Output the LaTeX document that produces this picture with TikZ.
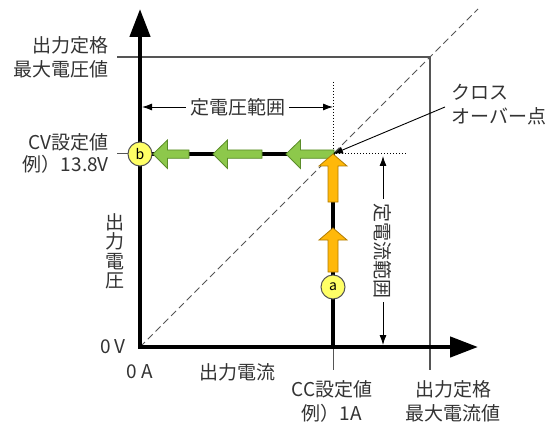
\documentclass[tikz,border=0pt]{standalone}
\usepackage{fontspec}
\setmainfont{Noto Sans CJK JP}
\usetikzlibrary{arrows.meta}

\definecolor{txtgray}{HTML}{333333}
\definecolor{linegray}{HTML}{555555}
\definecolor{cvgreen}{HTML}{8DC84B}
\definecolor{cvgreenline}{HTML}{5B8C2A}
\definecolor{ccorange}{HTML}{FFB80A}
\definecolor{ccorangeline}{HTML}{B07A00}
\definecolor{badgeyellow}{HTML}{FFFF66}

\tikzset{
  lbl/.style={text=txtgray,font=\fontsize{19pt}{24pt}\selectfont,inner sep=0pt},
  axis/.style={line width=4.5pt,line join=miter,
    {Triangle[length=28pt,width=20pt]}-{Triangle[length=28pt,width=20pt]}},
  setline/.style={line width=3.5pt},
  thinline/.style={linegray,line width=1.2pt},
  rangearrow/.style={black,line width=0.9pt,
    {Latex[length=10pt,width=7pt]}-{Latex[length=10pt,width=7pt]}},
  badge/.style={circle,draw=linegray,line width=1pt,fill=badgeyellow,
    minimum size=24pt,inner sep=0pt,font=\fontsize{14pt}{14pt}\selectfont},
  cvarrow/.style={fill=cvgreen,draw=cvgreenline,line width=0.8pt,line join=miter},
  ccarrow/.style={fill=ccorange,draw=ccorangeline,line width=0.8pt,line join=miter},
}

\begin{document}
\begin{tikzpicture}[x=1pt,y=-1pt]
  \useasboundingbox[fill=white] (0,0) rectangle (548,422);

  % Points of the graph
  \coordinate (O)    at (140,347);
  \coordinate (Ytop) at (140,9);
  \coordinate (Xend) at (478,347);
  \coordinate (X)    at (333,154);   % cross over
  \coordinate (M)    at (430,57);    % rated maximum
  \coordinate (Dend) at (478,9);
  \coordinate (CVl)  at (117,154);
  \coordinate (CCb)  at (333,370);
  \coordinate (CCa)  at (333,347);

  % Rated maximum box and load line
  \draw[thinline] (117,57) -- (M) -- (430,370);
  \draw[linegray,line width=1pt,dash pattern=on 7pt off 4pt] (O) -- (Dend);
  \draw[black,line width=1pt,dotted] (333,82) -- (X) -- (407,154);
  \draw[thinline,line width=1pt] (CVl) -- (O |- CVl);
  \draw[thinline,line width=1pt] (CCa) -- (CCb);

  % Ranges
  \draw[rangearrow] (142,107) -- (333,107)
    node[midway,lbl,fill=white,inner sep=4pt] {定電圧範囲};
  \draw[rangearrow] (383,156) -- (383,345)
    node[midway,lbl,fill=white,inner sep=4pt,rotate=-90] {定電流範囲};

  % Axes
  \draw[axis] (Ytop) -- (O) -- (Xend);

  % CV and CC lines
  \draw[setline] (140,154) -- (X) -- (CCa);

  % Arrows
  \foreach \tip/\tail in {153/189, 213/262, 286/334}
    \filldraw[cvarrow] (\tip,154) -- (\tip+14.5,140) -- (\tip+14.5,150) -- (\tail,150)
      -- (\tail,158.3) -- (\tip+14.5,158.3) -- (\tip+14.5,168.5) -- cycle;
  \foreach \tip/\tail in {228/272, 154/202}
    \filldraw[ccarrow] (333,\tip) -- (347,\tip+12) -- (338,\tip+12) -- (338,\tail)
      -- (328,\tail) -- (328,\tip+12) -- (319,\tip+12) -- cycle;

  % Set points
  \node[badge] (b) at (140,154) {b};
  \node[badge] (a) at (333,287) {a};

  % Labels
  \node[lbl,align=right,anchor=east] (ratedV) at (109,57.5) {出力定格\\最大電圧値};
  \node[lbl,align=right,anchor=east,font=\fontsize{19pt}{22pt}\selectfont] (cvset) at (109,153) {CV設定値\\例）13.8V};
  \node[lbl,align=center,font=\fontsize{19pt}{19.5pt}\selectfont] (vlabel) at (115,251.5) {出\\力\\電\\圧};
  \node[lbl,anchor=east] (zeroV) at (126,347) {0 V};
  \node[lbl] (zeroA) at (140,372) {0 A};
  \node[lbl] (ilabel) at (237,372) {出力電流};
  \node[lbl,align=center] (ccset) at (332,401) {CC設定値\\例）1A};
  \node[lbl,align=center] (ratedI) at (453,401) {出力定格\\最大電流値};
  \node[lbl,align=left,anchor=west] (XO) at (451,104.5) {クロス\\オーバー点};
  \draw[black,line width=0.9pt,-{Latex[length=10pt,width=7pt]}]
    ([shift={(-6,2.5)}]XO.west) -- (X);
\end{tikzpicture}
\end{document}
